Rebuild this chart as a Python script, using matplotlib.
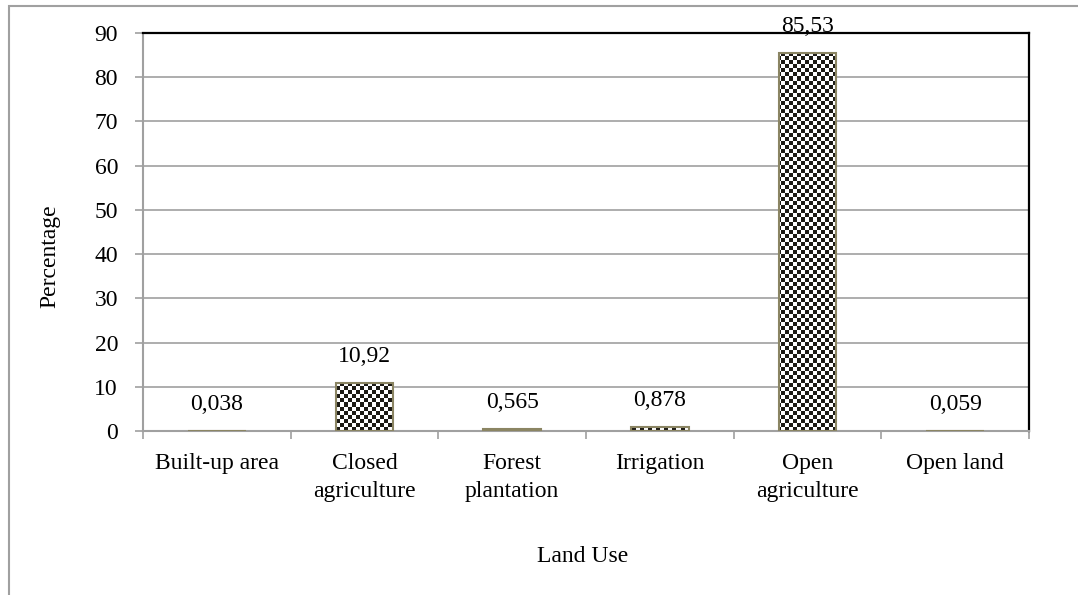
import numpy as np
import matplotlib
matplotlib.use("Agg")
import matplotlib.pyplot as plt
from matplotlib.patches import Rectangle

# Data
categories = ["Built-up area", "Closed\nagriculture", "Forest\nplantation",
              "Irrigation", "Open\nagriculture", "Open land"]
values = [0.038, 10.92, 0.565, 0.878, 85.53, 0.059]
value_labels = ["0,038", "10,92", "0,565", "0,878", "85,53", "0,059"]
y_ticks = [0, 10, 20, 30, 40, 50, 60, 70, 80, 90]

plt.rcParams['font.family'] = ['Liberation Serif', 'DejaVu Serif']
plt.rcParams['font.size'] = 17

fig = plt.figure(figsize=(10.78, 5.95), dpi=100)
ax = fig.add_axes([143 / 1078, 1 - 431 / 595, 886 / 1078, 398 / 595])

grey = '#a0a0a0'
x = np.arange(len(categories))

# grid lines
for t in y_ticks[1:-1]:
    ax.axhline(t, color=grey, lw=1.2, zorder=0)

bars = ax.bar(x, values, width=0.39, facecolor='none',
              edgecolor='#8b8563', linewidth=1.5, zorder=3)

# checkerboard fill, clipped to each bar
ax.set_xlim(-0.5, 5.5)
ax.set_ylim(0, 90)
nx, ny = 886 // 4, 398 // 4
checker = (np.add.outer(np.arange(ny), np.arange(nx)) % 2).astype(float)
for b in bars:
    im = ax.imshow(checker, cmap=matplotlib.colors.ListedColormap(['#1c1a14', 'white']),
                   extent=(-0.5, 5.5, 0, 90), aspect='auto',
                   interpolation='nearest', zorder=2)
    im.set_clip_path(b)
ax.set_xlim(-0.5, 5.5)
ax.set_ylim(0, 90)

# value labels
for xi, v, lab in zip(x, values, value_labels):
    ax.annotate(lab, (xi, v), xytext=(0, 15), textcoords='offset points',
                ha='center', va='baseline', fontsize=17, zorder=5)

# spines
ax.spines['top'].set_color('black')
ax.spines['top'].set_linewidth(1.6)
ax.spines['right'].set_color('black')
ax.spines['right'].set_linewidth(1.6)
ax.spines['left'].set_color(grey)
ax.spines['left'].set_linewidth(1.5)
ax.spines['bottom'].set_color(grey)
ax.spines['bottom'].set_linewidth(1.5)

ax.set_yticks(y_ticks)
ax.set_yticklabels([str(t) for t in y_ticks])
ax.tick_params(axis='y', length=6, width=1.2, color=grey, pad=12)

ax.set_xticks(x)
ax.set_xticklabels(categories, linespacing=1.45)
ax.set_xticks(np.arange(-0.5, 6, 1), minor=True)
ax.tick_params(axis='x', which='major', length=0, pad=16)
ax.tick_params(axis='x', which='minor', length=6, width=1.2, color=grey)

fig.text(50 / 1078, 1 - 256 / 595, "Percentage", rotation=90,
         ha='center', va='center', fontsize=17)
fig.text(583 / 1078, 1 - 557 / 595, "Land Use", ha='center', va='center',
         fontsize=17)

# outer chart frame (left and top edges visible)
fig.patches.append(Rectangle((9 / 1078, -0.1), 1.2, 1 - 6 / 595 + 0.1,
                             transform=fig.transFigure, fill=False,
                             edgecolor=grey, lw=1.5))

fig.savefig("out.png", dpi=100)
